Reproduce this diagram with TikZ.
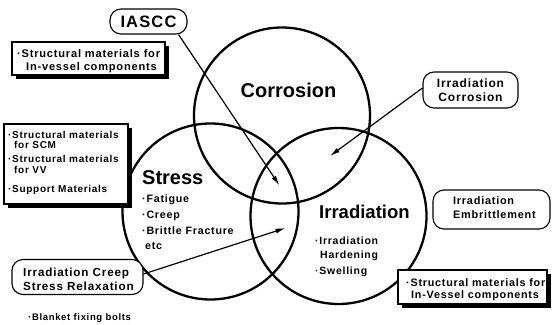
\documentclass[tikz,border=0pt]{standalone}
\usepackage{fontspec}
\setmainfont{Liberation Sans}
\newfontfamily\spc[LetterSpace=7]{Liberation Sans}
\usetikzlibrary{arrows.meta}
\newcommand\fs[1]{\spc\bfseries\fontsize{#1}{#1}\selectfont}
\begin{document}
\begin{tikzpicture}[x=1pt,y=-1pt,
  circ/.style={draw, line width=2.3pt, circle, minimum size=176pt, inner sep=0pt},
  rbox/.style={draw, fill=white, line width=1.1pt, rounded corners=11pt, inner sep=0pt},
  sbox/.style={draw, fill=white, line width=1.2pt, inner sep=0pt},
  shadowbox/.style={fill=black, inner sep=0pt},
  conn/.style={line width=1.2pt, -{Latex[length=10pt,width=5pt]}},
  bigtxt/.style={font=\bfseries\fontsize{20}{24}\selectfont, inner sep=0pt},
  txt/.style={font=\fs{10.5}, inner sep=0pt, anchor=base west},
]
\useasboundingbox (0,0) rectangle (553,324);

% circles
\node[circ] (corr) at (282,115.5) {};
\node[circ] (stress) at (210.5,211.5) {};
\node[circ] (irr) at (338.5,216) {};

% circle titles
\node[bigtxt, anchor=base] (tcorr) at (288.5,97) {Corrosion};
\node[bigtxt, anchor=base west] (tstress) at (142,184) {Stress};
\node[bigtxt, anchor=base west, font=\bfseries\fontsize{18.5}{22}\selectfont] (tirr) at (319,218) {Irradiation};

% stress items
\node[txt, font=\fs{10.7}] (s1) at (142,202) {·Fatigue};
\node[txt, font=\fs{10.7}] (s2) at (142,218) {·Creep};
\node[txt, font=\fs{10.7}] (s3) at (142,234) {·Brittle Fracture};
\node[txt, font=\fs{10.7}] (s4) at (145,249) {etc};

% irradiation items
\node[txt] (i1) at (315,244) {·Irradiation};
\node[txt] (i2) at (320,258) {Hardening};
\node[txt] (i3) at (315,274) {·Swelling};

% shadow box A (top left)
\node[shadowbox, minimum width=153pt, minimum height=33pt] (shA) at (92.5,62) {};
\node[sbox, minimum width=153pt, minimum height=33pt] (boxA) at (88.5,58.5) {};
\node[txt, font=\fs{11.1}] (a1) at (17,57) {·Structural materials for};
\node[txt, font=\fs{11.1}] (a2) at (26,70.5) {In-vessel components};

% shadow box B (left)
\node[shadowbox, minimum width=124pt, minimum height=80pt] (shB) at (70,168) {};
\node[sbox, minimum width=124pt, minimum height=80pt] (boxB) at (66,164) {};
\node[txt, font=\fs{10}] (b1) at (8,138) {·Structural materials};
\node[txt, font=\fs{10}] (b2) at (14,148.5) {for SCM};
\node[txt, font=\fs{10}] (b3) at (8,162.5) {·Structural materials};
\node[txt, font=\fs{10}] (b4) at (14,173) {for VV};
\node[txt, font=\fs{10}] (b5) at (8,192) {·Support Materials};

% shadow box C (bottom right)
\node[shadowbox, minimum width=149pt, minimum height=34pt] (shC) at (476.5,291) {};
\node[sbox, minimum width=149pt, minimum height=34pt] (boxC) at (472.5,287) {};
\node[txt, font=\fs{10.8}] (c1) at (406,286.5) {·Structural materials for};
\node[txt, font=\fs{10.8}] (c2) at (411,298) {In-Vessel components};

% rounded boxes
\node[rbox, minimum width=77pt, minimum height=25pt] (iascc) at (148.5,21.5) {};
\node[inner sep=0pt, anchor=base, font=\fs{16.5}] (tiascc) at (148.5,27.5) {IASCC};

\node[rbox, minimum width=95pt, minimum height=36pt] (icorr) at (470.5,90) {};
\node[txt, anchor=base, font=\fs{12}] (ic1) at (470.5,87) {Irradiation};
\node[txt, anchor=base, font=\fs{12}] (ic2) at (470.5,101) {Corrosion};

\node[rbox, minimum width=117pt, minimum height=39pt] (iemb) at (491.5,209.5) {};
\node[txt, font=\fs{10.9}] (ie1) at (453,204) {Irradiation};
\node[txt, font=\fs{10.9}] (ie2) at (453,218) {Embrittlement};

\node[rbox, minimum width=131pt, minimum height=35pt] (creep) at (77.5,277) {};
\node[txt, font=\fs{11.7}] (cr1) at (23,276) {Irradiation Creep};
\node[txt, font=\fs{11.7}] (cr2) at (23,290.5) {Stress Relaxation};

\node[txt, font=\fs{9.5}] (blanket) at (28,320) {·Blanket fixing bolts};

% arrows
\coordinate (tipA) at (279.5,185.5);
\coordinate (tipB) at (330,156);
\coordinate (tipC) at (285.5,228);
\draw[conn] ([xshift=-9pt]iascc.south east) -- (tipA);
\draw[conn] ([yshift=2pt]icorr.west) -- (tipB);
\draw[conn] ([yshift=3pt]creep.east) -- (tipC);
\end{tikzpicture}
\end{document}
